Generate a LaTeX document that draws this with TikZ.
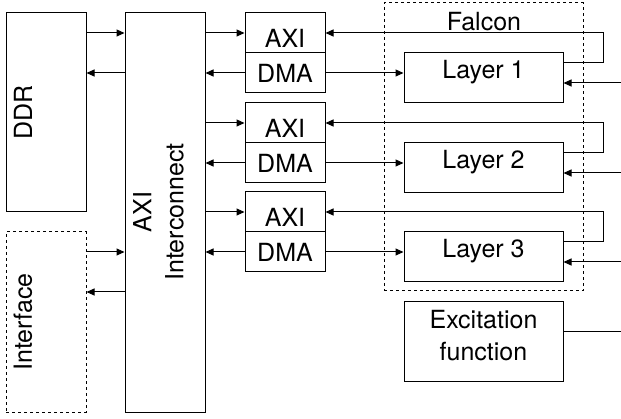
\documentclass[tikz,border=0pt]{standalone}
\usepackage{fontspec}
\setmainfont{TeX Gyre Heros}
\usetikzlibrary{arrows.meta}

\begin{document}
\begin{tikzpicture}[x=1pt, y=-1pt,
    every node/.style={font=\fontsize{25}{32}\selectfont},
    box/.style={draw, rectangle, line width=1pt, inner sep=0pt},
    dbox/.style={box, dash pattern=on 3pt off 3pt},
    cell/.style={box, minimum width=80pt, minimum height=40pt},
    axicell/.style={cell, text height=29pt, text depth=0pt},
    layer/.style={box, minimum width=159pt, minimum height=50pt, text height=18pt, text depth=16pt},
    arr/.style={-{Triangle[length=8pt, width=7pt]}, line width=1pt}]
    \useasboundingbox (0,0) rectangle (621,419);
    % Boxes
    \node[box, minimum width=80pt, minimum height=199pt] at (46,112.5) (ddr) {};
    \node[dbox, minimum width=80pt, minimum height=180pt] at (46,322) (iface) {};
    \node[box, minimum width=80pt, minimum height=399pt] at (165,212.5) (axic) {};
    \node[axicell] at (285,33) (axi1) {AXI};
    \node[cell] at (285,73) (dma1) {DMA};
    \node[axicell] at (285,123) (axi2) {AXI};
    \node[cell] at (285,163) (dma2) {DMA};
    \node[axicell] at (285,212) (axi3) {AXI};
    \node[cell] at (285,252) (dma3) {DMA};
    \node[dbox, minimum width=199pt, minimum height=288pt] at (483.5,147) (falcon) {};
    \node[layer] at (483.5,78) (layer1) {Layer 1};
    \node[layer] at (483.5,168) (layer2) {Layer 2};
    \node[layer] at (483.5,257) (layer3) {Layer 3};
    \node[box, minimum width=159pt, minimum height=80pt] at (483.5,342) (excit) {};
    
    % Labels
    \node[rotate=90] at (23,112.5) (ddrtext) {DDR};
    \node[rotate=90] at (23,322) (ifacetext) {Interface};
    \node[rotate=90, align=center] at (158.5,212) (axictext) {AXI\\Interconnect};
    \node at (484,22) (falcontext) {Falcon};
    \node[align=center] at (483.5,336) (excittext) {Excitation\\function};
    
    % Free ends
    \coordinate (ret1) at (603,33);
    \coordinate (ret2) at (603,123);
    \coordinate (ret3) at (603,212);
    \coordinate (in1) at (621,83);
    \coordinate (in2) at (621,173);
    \coordinate (in3) at (621,262);
    \coordinate (exout) at (621,332);
    
    % Arrows
    \draw[arr] (ddr.east |- axi1) -- (axic.west |- axi1);
    \draw[arr] (axic.west |- dma1) -- (ddr.east |- dma1);
    \draw[arr] ([yshift=70pt]iface.east) -- (axic.west |- dma3);
    \draw[arr] (axic.west |- 0,292) -- ([yshift=30pt]iface.east);
    \draw[arr] (axic.east |- axi1) -- (axi1.west);
    \draw[arr] (dma1.west) -- (axic.east |- dma1);
    \draw[arr] (axic.east |- axi2) -- (axi2.west);
    \draw[arr] (dma2.west) -- (axic.east |- dma2);
    \draw[arr] (axic.east |- axi3) -- (axi3.west);
    \draw[arr] (dma3.west) -- (axic.east |- dma3);
    \draw[arr] (dma1.east) -- (layer1.west |- dma1);
    \draw[arr] (dma2.east) -- (layer2.west |- dma2);
    \draw[arr] (dma3.east) -- (layer3.west |- dma3);
    \draw[arr] ([yshift=15pt]layer1.east) -| (ret1) -- (axi1.east);
    \draw[arr] ([yshift=15pt]layer2.east) -| (ret2) -- (axi2.east);
    \draw[arr] ([yshift=15pt]layer3.east) -| (ret3) -- (axi3.east);
    \draw[arr] (in1) -- (layer1.east |- in1);
    \draw[arr] (in2) -- (layer2.east |- in2);
    \draw[arr] (in3) -- (layer3.east |- in3);
    \draw[line width=1pt] (excit.east |- exout) -- (exout);
\end{tikzpicture}
\end{document}
